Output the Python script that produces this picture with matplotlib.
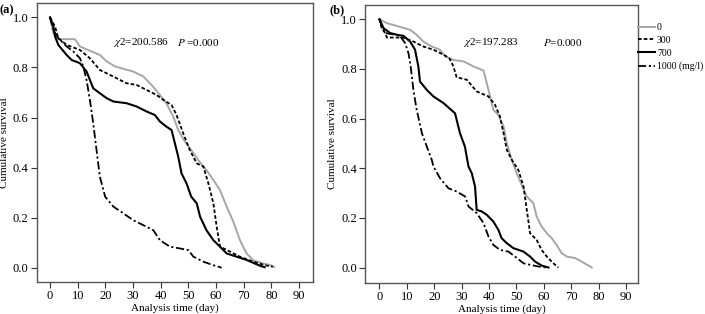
import matplotlib
matplotlib.use("Agg")
import matplotlib.pyplot as plt
from matplotlib.lines import Line2D

plt.rcParams['font.family'] = ['Liberation Serif', 'DejaVu Serif']
plt.rcParams['mathtext.fontset'] = 'stix'

# Panel (a) survival curves
a0_t = [0, 1.2, 3, 9, 10.8, 15, 18, 20.5, 23.5, 27, 30, 33.7, 36.7, 39.7, 42, 44.5, 46.3, 48.7, 51,
        53.5, 56.5, 59, 61.4, 63.8, 66.2, 68.6, 71, 73.4, 77, 79.4, 81]
a0_s = [1.0, 0.937, 0.913, 0.913, 0.884, 0.864, 0.85, 0.824, 0.804, 0.793, 0.784, 0.764, 0.73, 0.69,
        0.657, 0.604, 0.55, 0.504, 0.47, 0.43, 0.39, 0.35, 0.31, 0.244, 0.184, 0.11, 0.057, 0.03,
        0.017, 0.011, 0.003]

a300_t = [0, 1.8, 3, 6, 10.8, 14.4, 18, 21.7, 25.3, 27.7, 31.3, 34.9, 38.5, 41, 43.9, 45.7, 48.1,
          50.5, 53, 55.4, 57.2, 59, 60.2, 61.4, 63.8, 68.6, 73.4, 77.6, 80.5]
a300_s = [1.0, 0.964, 0.917, 0.89, 0.87, 0.837, 0.79, 0.77, 0.75, 0.737, 0.73, 0.71, 0.69, 0.67,
          0.65, 0.61, 0.537, 0.47, 0.417, 0.404, 0.337, 0.257, 0.164, 0.084, 0.071, 0.044, 0.024,
          0.01, 0.004]

a700_t = [0, 1.2, 1.8, 3, 6, 7.8, 10.8, 13.2, 15.6, 18, 20.5, 22.9, 27.7, 31.3, 34.9, 37.9, 39.7,
          42, 43.9, 45.1, 46.3, 47.5, 49.3, 51, 53, 54.2, 56.5, 59, 61.4, 63.8, 67.4, 71, 75.8, 77.5]
a700_s = [1.0, 0.964, 0.924, 0.89, 0.85, 0.83, 0.817, 0.784, 0.717, 0.697, 0.677, 0.664, 0.657,
          0.644, 0.624, 0.61, 0.584, 0.564, 0.55, 0.497, 0.444, 0.377, 0.337, 0.284, 0.257, 0.204,
          0.15, 0.11, 0.084, 0.057, 0.044, 0.031, 0.008, 0.002]

a1000_t = [0, 1.2, 3, 6, 8.4, 10.8, 12, 13.2, 14.4, 15.6, 16.8, 18, 19.9, 22.9, 26.5, 30, 33.7,
           37.3, 39.7, 43.3, 46.9, 50, 51.8, 55.4, 59, 62]
a1000_s = [1.0, 0.95, 0.917, 0.884, 0.864, 0.837, 0.804, 0.75, 0.67, 0.577, 0.47, 0.364, 0.284,
           0.244, 0.217, 0.19, 0.17, 0.15, 0.11, 0.084, 0.077, 0.07, 0.044, 0.024, 0.01, 0.0]

# Panel (b) survival curves
b0_t = [0, 2.7, 6.3, 11.2, 13.6, 16, 19.1, 22.1, 24, 27, 30.7, 34.3, 38, 39.2, 40.4, 41.6, 43.4,
        45.3, 46.5, 48.3, 50.1, 51.9, 53.8, 56.2, 57.4, 59.2, 61.1, 62.9, 64.7, 66.5, 68.4, 71.4,
        73.8, 76.9, 77.5]
b0_s = [1.0, 0.984, 0.973, 0.957, 0.937, 0.91, 0.89, 0.877, 0.85, 0.836, 0.83, 0.81, 0.793, 0.742,
        0.689, 0.635, 0.615, 0.568, 0.5, 0.434, 0.38, 0.333, 0.286, 0.259, 0.205, 0.165, 0.138,
        0.118, 0.091, 0.058, 0.044, 0.038, 0.024, 0.004, 0.0]

b300_t = [0, 0.85, 2.1, 2.7, 8.5, 12.4, 16, 19.7, 23.4, 25.5, 27, 28.2, 31.9, 35.5, 39.8, 42.2,
          44, 45.3, 46.5, 48.3, 50.7, 52.6, 53.8, 55, 57.4, 59.2, 61.1, 63.5, 65.3]
b300_s = [1.0, 0.964, 0.944, 0.926, 0.926, 0.91, 0.89, 0.877, 0.857, 0.843, 0.81, 0.766, 0.756,
          0.709, 0.689, 0.655, 0.608, 0.541, 0.474, 0.434, 0.393, 0.326, 0.232, 0.138, 0.111,
          0.071, 0.044, 0.017, 0.0]

b700_t = [0, 1.5, 3.9, 6.9, 8.8, 11.2, 13, 14.2, 14.8, 17.3, 19.7, 23.4, 27.6, 29.4, 31.2, 32.5,
          33.7, 34.9, 35.5, 37.3, 39.2, 41.6, 43.4, 44.6, 46.5, 48.9, 52.6, 55, 56.8, 59.2, 61.7]
b700_s = [1.0, 0.964, 0.944, 0.936, 0.933, 0.91, 0.877, 0.81, 0.749, 0.715, 0.689, 0.662, 0.621,
          0.541, 0.487, 0.407, 0.38, 0.326, 0.232, 0.226, 0.212, 0.185, 0.152, 0.118, 0.098,
          0.078, 0.064, 0.044, 0.024, 0.008, 0.0]

b1000_t = [0, 0.85, 2.1, 4.5, 7.5, 9.4, 10.6, 11.4, 12.4, 13.6, 15.5, 17.3, 19.1, 19.7, 22.1,
           25.2, 28.2, 31.3, 32.5, 35.5, 38, 39.8, 41.6, 44, 47.1, 49.5, 52.6, 55, 58, 61.1]
b1000_s = [1.0, 0.97, 0.944, 0.94, 0.933, 0.903, 0.863, 0.81, 0.715, 0.635, 0.541, 0.487, 0.434,
           0.407, 0.36, 0.319, 0.306, 0.286, 0.246, 0.219, 0.179, 0.125, 0.091, 0.071, 0.064,
           0.044, 0.017, 0.011, 0.004, 0.0]

groups = ['0', '300', '700', '1000 (mg/l)']
x_ticks = [0, 10, 20, 30, 40, 50, 60, 70, 80, 90]
y_ticks = [0.0, 0.2, 0.4, 0.6, 0.8, 1.0]

# line style for each group: gray solid, dashed, solid, dash-dot
styles = [dict(color='#a6a6a6', lw=1.4),
          dict(color='black', lw=1.3, dashes=(2.0, 1.2)),
          dict(color='black', lw=1.5),
          dict(color='black', lw=1.3, dashes=(4.5, 1.5, 1.2, 1.5))]

fig = plt.figure(figsize=(7.05, 3.14), dpi=100)
ax_a = fig.add_axes([0.0525, 0.102, 0.3915, 0.888])
ax_b = fig.add_axes([0.518, 0.099, 0.387, 0.885])

panels = [(ax_a, [(a0_t, a0_s), (a300_t, a300_s), (a700_t, a700_s), (a1000_t, a1000_s)],
           (-4.7, 95.0), (-0.057, 1.057)),
          (ax_b, [(b0_t, b0_s), (b300_t, b300_s), (b700_t, b700_s), (b1000_t, b1000_s)],
           (-5.2, 94.4), (-0.062, 1.057))]

for ax, curves, xl, yl in panels:
    for (t, s), st in zip(curves, styles):
        ax.plot(t, s, **st)
    ax.set_xlim(*xl)
    ax.set_ylim(*yl)
    ax.set_xticks(x_ticks)
    ax.set_yticks(y_ticks)
    ax.set_yticklabels(['%.1f' % v for v in y_ticks])
    ax.tick_params(direction='out', length=4, width=0.8, colors='#333333', labelsize=9,
                   labelcolor='black', pad=2)
    for sp in ax.spines.values():
        sp.set_color('#555555')
        sp.set_linewidth(1.0)
    ax.set_xlabel('Analysis time (day)', fontsize=8, labelpad=1)
    ax.set_ylabel('Cumulative survival', fontsize=8, labelpad=3)

# test statistics
ax_a.text(22.7, 0.9, r'$\chi$2=200.586', fontsize=8, va='center')
ax_a.text(45.8, 0.9, r'$\it{P}$ =0.000', fontsize=8, va='center')
ax_b.text(30.5, 0.905, r'$\chi$2=197.283', fontsize=8, va='center')
ax_b.text(59.7, 0.905, r'$\it{P}$=0.000', fontsize=8, va='center')

# panel labels
fig.text(0.0, 0.968, '(a)', fontsize=9, fontweight='bold', va='center')
fig.text(0.467, 0.968, '(b)', fontsize=9, fontweight='bold', va='center')

# legend on the right of panel (b)
handles = [Line2D([], [], **st) for st in styles]
fig.legend(handles, groups, loc='upper left', bbox_to_anchor=(638 / 705, 1 - 23 / 314),
           frameon=False, fontsize=7, handlelength=1.75, handletextpad=0.2, labelspacing=0.4,
           borderaxespad=0, borderpad=0)

fig.savefig('out.png', dpi=100)
